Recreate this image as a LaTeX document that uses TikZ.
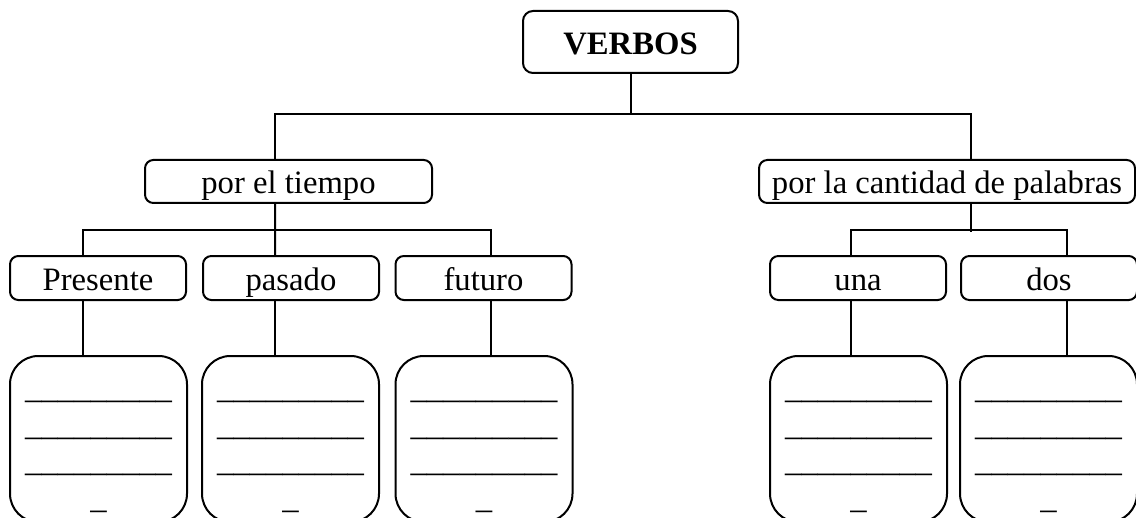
\documentclass[tikz,border=0pt]{standalone}
\usepackage{fontspec}
\setmainfont{Liberation Serif}
\newcommand{\raya}{\_\_\_\_\_\_\_\_\_}
\newcommand{\renglones}{\rule{0pt}{20pt}\raya\\\raya\\\raya\\\_}
\begin{document}
\begin{tikzpicture}[x=0.6pt,y=-0.6pt,line width=1.2pt,
  caja/.style={draw,rounded corners=5pt,minimum width=105.6pt,minimum height=26.4pt,inner sep=0pt,text height=14.5pt,text depth=0pt,font=\fontsize{19.6pt}{22pt}\selectfont},
  hoja/.style={draw,rounded corners=17pt,minimum width=106.2pt,minimum height=99.6pt,inner sep=0pt,align=center,font=\fontsize{19.6pt}{22pt}\selectfont}]
\clip (0,0) rectangle (1136,518);
% niveles
\node[caja,rounded corners=6pt,minimum width=129pt,minimum height=37.2pt,font=\fontsize{19.6pt}{22pt}\selectfont\bfseries] (verbos) at (630.5,42) {VERBOS};
\node[caja,minimum width=172.2pt,minimum height=25.8pt] (tiempo) at (288.5,181.5) {por el tiempo};
\node[caja,minimum width=225.6pt,minimum height=25.8pt] (cantidad) at (947,181.5) {por la cantidad de palabras};
\node[caja] (pre) at (98,278) {Presente};
\node[caja] (pas) at (291,278) {pasado};
\node[caja] (fut) at (483.5,278) {futuro};
\node[caja] (una) at (858,278) {una};
\node[caja] (dos) at (1049,278) {dos};
% cajas para escribir
\node[hoja] (hpre) at (98.5,439) {\renglones};
\node[hoja] (hpas) at (290.5,439) {\renglones};
\node[hoja] (hfut) at (484,439) {\renglones};
\node[hoja] (huna) at (858.5,439) {\renglones};
\node[hoja] (hdos) at (1048.5,439) {\renglones};
% lineas
\draw (verbos.south) -- ++(0,40) -| ([xshift=-8.1pt]tiempo.north);
\draw (verbos.south) -- ++(0,40) -| ([xshift=14.4pt]cantidad.north);
\draw ([xshift=-8.1pt]tiempo.south) -- ([xshift=-9.6pt]pas.north);
\draw ([xshift=-9pt]pre.north) -- ++(0,-25) -| ([xshift=4.5pt]fut.north);
\draw ([xshift=14.4pt]cantidad.south) -- ++(0,28);
\draw ([xshift=-4.2pt]una.north) -- ++(0,-25) -| ([xshift=10.8pt]dos.north);
\draw ([xshift=-9pt]pre.south) -- ([xshift=-9pt]pre.south |- hpre.north);
\draw ([xshift=-9.6pt]pas.south) -- ([xshift=-9.6pt]pas.south |- hpas.north);
\draw ([xshift=4.5pt]fut.south) -- ([xshift=4.5pt]fut.south |- hfut.north);
\draw ([xshift=-4.2pt]una.south) -- ([xshift=-4.2pt]una.south |- huna.north);
\draw ([xshift=10.8pt]dos.south) -- ([xshift=10.8pt]dos.south |- hdos.north);
\end{tikzpicture}
\end{document}
